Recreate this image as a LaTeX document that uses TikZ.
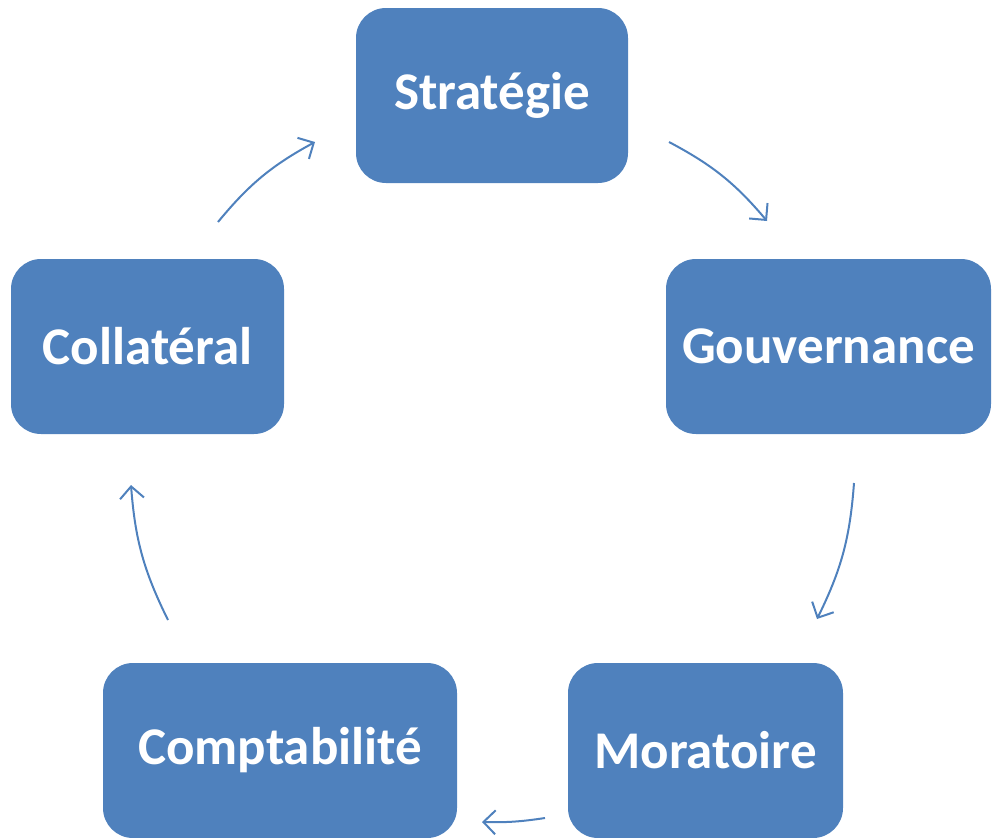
\documentclass[tikz,border=0pt]{standalone}
\usepackage{fontspec}
\setmainfont{Carlito}
\usetikzlibrary{arrows.meta}
\definecolor{bleu}{HTML}{4F81BD}
\tikzset{
  etape/.style={fill=bleu, rounded corners=30pt, minimum height=175pt,
    text=white, font=\fontsize{53}{60}\selectfont\bfseries, inner sep=0pt},
  fleche/.style={draw=bleu, line width=2pt,
    -{Straight Barb[length=12pt,width=24pt,line width=2pt]}}
}
\begin{document}
\begin{tikzpicture}[x=1pt,y=1pt]
\useasboundingbox (0,0) rectangle (994,-838);
% les cinq etapes
\node [etape, minimum width=272pt] (strat) at (492,-95.5) {Stratégie};
\node [etape, minimum width=325pt] (gouv) at (828.5,-346.5) {Gouvernance};
\node [etape, minimum width=275pt] (mora) at (705.5,-750.5) {Moratoire};
\node [etape, minimum width=354pt] (compta) at (280,-750.5) {Comptabilité};
\node [etape, minimum width=273pt] (coll) at (147.5,-346.5) {Collatéral};
% extremites des fleches
\coordinate (sg1) at (669,-142);  \coordinate (sg2) at (767,-221);
\coordinate (gm1) at (854,-483);  \coordinate (gm2) at (817,-619);
\coordinate (mc1) at (545,-818);  \coordinate (mc2) at (482,-822);
\coordinate (cc1) at (168,-620);  \coordinate (cc2) at (131,-485);
\coordinate (cs1) at (218,-222);  \coordinate (cs2) at (315,-142);
% cycle
\draw [fleche] (sg1) to [bend left=11] (sg2);
\draw [fleche] (gm1) to [bend left=11] (gm2);
\draw [fleche] (mc1) to [bend left=5] (mc2);
\draw [fleche] (cc1) to [bend left=11] (cc2);
\draw [fleche] (cs1) to [bend left=11] (cs2);
\end{tikzpicture}
\end{document}
